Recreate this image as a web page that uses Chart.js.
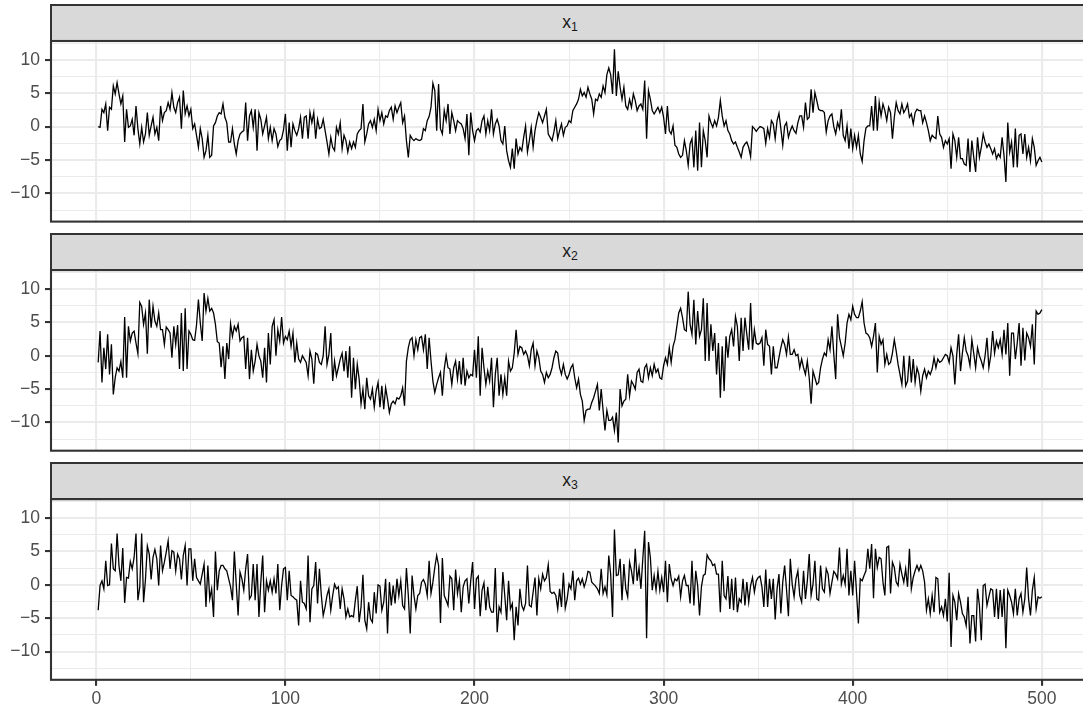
<!DOCTYPE html>
<html>
<head>
<meta charset="utf-8">
<script src="https://cdn.jsdelivr.net/npm/chart.js@4.4.1/dist/chart.umd.min.js"></script>
<style>
  html, body { margin: 0; padding: 0; background: #fff; overflow: hidden; width: 1083px; height: 711px; }
  #wrap { position: relative; width: 1100px; height: 711px; overflow: hidden; }
  canvas { position: absolute; left: 0; }
  .strip {
    position: absolute; box-sizing: border-box;
    background: #d9d9d9; border: 2.1px solid #333333;
    display: flex; align-items: center; justify-content: center;
    font-family: "Liberation Sans", Arial, Helvetica, sans-serif;
    font-size: 17.5px; color: #1a1a1a; line-height: 1;
  }
  .strip sub { font-size: 70%; vertical-align: baseline; position: relative; top: 0.35em; }
</style>
</head>
<body>
<div id="wrap"></div>
<script>
// series values, t = 1..500
const x1 = [
  0,-0.1,2.6,2.1,3.4,-0.6,2.9,2.6,6.1,4.9,
  6.6,4.9,3.4,4.6,-2.3,2.6,-0.1,0.1,1.1,-1.3,
  3.1,-0.3,-2.6,-0.1,-2.3,-1.1,2.1,-1.3,0.1,1.4,
  -1.1,-0.1,-2.1,3.1,0.9,2.1,2.4,3.6,2.6,5.1,
  2.9,2.1,3.6,4.4,-0.3,5.4,1.9,3.1,1.6,2.6,
  -0.3,0.4,-1.3,-3.1,-0.3,-1.8,-4.6,-3.6,-1.3,-4.6,
  -4.3,0.1,0.6,1.6,2.1,1.9,3.4,1.4,0.6,-2.3,
  -2.3,-0.3,-2.6,-4.1,-2.1,-1.1,-0.8,-0.6,3.6,-2.1,
  1.6,2.4,-0.1,2.6,-3.6,2.1,1.1,-1.1,0.1,1.4,
  -1.8,-0.1,-2.1,-0.3,-1.1,-3.0,-2.1,-1.8,-0.5,1.9,
  -3.6,0.6,-3.1,0.4,-0.6,-1.3,-0.3,1.4,-1.8,1.4,
  1.6,-1.8,2.1,0.6,2.1,-1.8,1.1,-0.3,-0.1,1.1,
  -0.6,-2.3,-4.1,-1.6,-3.1,-3.6,-0.1,-1.1,0.6,-3.3,
  -1.3,-2.1,-3.8,-2.3,-3.3,-2.3,-3.1,-1.1,-0.6,-0.3,
  3.4,-2.3,-1.1,0.4,0.9,-0.1,1.1,-0.6,2.6,0.9,
  2.1,0.4,1.6,1.4,2.4,2.9,1.1,3.1,2.1,2.9,
  3.6,0.6,1.6,-2.1,-4.6,-1.3,-1.8,-2.1,-1.8,-2.0,
  -2.1,-1.9,-0.3,-0.6,0.9,1.5,2.9,6.5,5.4,-0.6,
  6.4,-0.3,-1.1,2.4,0.9,3.4,-1.1,2.1,0.9,-0.6,
  0.9,0.6,0.4,-0.3,-1.8,1.9,-4.3,2.1,-0.6,-2.1,
  -0.6,-0.3,-0.8,0.9,1.6,-1.1,0.9,-0.6,2.6,-1.1,
  0.4,1.1,0.1,-2.1,-2.6,0.1,-3.6,-5.1,-6.1,-3.3,
  -6.3,-1.8,-4.1,-3.1,-3.6,-1.6,0.1,-3.8,-2.1,-0.1,
  -3.1,-0.6,0.9,2.1,1.4,0.6,1.6,2.6,-1.1,-1.6,
  -2.1,-0.8,0.9,-1.8,-0.6,0.4,-1.3,-0.1,0.1,0.9,
  0.6,2.4,2.9,3.4,4.1,5.6,4.6,5.1,4.4,5.9,
  4.9,4.1,1.9,4.1,3.9,4.9,4.4,6.1,5.1,7.8,
  8.8,7.8,4.9,11.6,4.6,8.3,5.9,4.1,5.9,3.1,
  2.6,4.1,2.9,4.9,3.9,2.4,3.1,3.4,2.6,6.9,
  -1.8,5.4,4.1,2.4,1.9,2.4,2.9,2.1,2.9,1.4,
  -1.1,3.1,-0.6,-1.1,0.1,-2.8,-3.1,-4.1,-4.6,-4.3,
  -2.1,-3.6,-5.8,-2.6,-1.8,-6.1,-0.6,-6.6,0.6,-6.1,
  -0.6,-2.1,-4.6,1.6,0.6,-0.1,0.9,0.1,1.4,3.9,
  1.6,0.1,0.9,-0.6,-1.1,-2.1,-2.6,-2.3,-3.1,-3.8,
  -4.6,-3.1,-2.6,-2.3,-3.1,-4.5,0,-0.3,-0.7,-0.3,
  0,-0.1,-0.3,-2.5,-0.3,-1.6,0.9,0.4,-1.8,0.9,
  2.0,-0.3,-2.8,0.1,0.6,-1.6,-0.6,0.1,-0.6,-1.0,
  0.6,1.6,1.6,-0.1,3.6,1.1,1.4,5.6,2.1,5.1,
  3.9,2.6,2.4,2.4,2.1,-0.8,0.9,1.6,1.9,0,
  -1.1,0.6,-0.3,2.6,-1.3,-2.1,0.1,-3.3,-0.3,-3.3,
  -1.3,-3.1,-1.3,-4.1,-5.2,-2.1,-0.2,0.1,0.1,3.1,
  -0.6,4.6,-0.6,3.6,1.6,3.4,2.4,0.9,2.9,2.1,
  -1.8,1.4,3.6,2.4,1.9,3.4,2.1,2.6,3.4,1.4,
  1.9,0.4,2.1,2.6,2.4,2.4,0.6,1.6,0.6,-0.6,
  -2.1,-1.3,-1.6,-1.8,1.6,-1.1,-1.6,-3.1,-2.1,-2.6,
  -1.8,-6.3,-1.1,-2.1,-4.6,-1.6,-4.8,-4.8,-5.6,-5.8,
  -1.8,-6.8,-2.1,-4.6,-6.8,-1.6,-4.6,-3.1,-1.1,-2.3,
  -3.1,-2.6,-3.3,-4.1,-3.3,-4.8,-4.1,-4.6,-1.6,-4.3,
  -8.3,0.6,-3.8,-2.3,-6.1,-0.3,-6.1,-1.3,-1.1,-4.1,
  -1.1,-4.6,-3.1,-5.1,-1.8,-3.1,-5.8,-5.1,-4.6,-5.3
];
const x2 = [
  -1.0,3.7,-4.0,1.2,-2.0,3.2,-2.8,1.7,-5.8,-3.3,
  -1.8,-2.3,-0.9,-3.3,5.8,-3.3,4.4,2.2,3.4,3.7,
  1.9,0.3,8.0,7.4,4.7,6.4,0.3,8.4,4.2,7.4,
  5.2,4.4,6.4,3.9,3.9,1.7,4.3,3.9,3.4,-0.3,
  4.4,1.7,4.6,-2.0,6.4,-2.3,7.1,-2.0,3.7,3.2,
  2.4,2.3,4.6,8.4,4.9,2.2,9.4,6.7,8.6,6.7,
  7.1,6.4,4.7,2.1,1.9,-1.7,1.4,-3.5,1.9,-0.5,
  4.8,2.9,4.4,3.7,4.7,2.2,2.7,2.9,-2.0,2.7,
  -3.5,0.9,-2.3,-0.8,1.7,0,-0.8,-3.3,1.2,-4.0,
  3.4,-1.3,4.4,5.4,0,3.9,2.2,5.8,1.9,2.9,
  2.4,3.7,1.4,3.4,-1.0,1.9,-0.5,-1.0,0,-0.5,
  -1.0,-3.0,0.7,-0.5,-4.2,0.4,0.2,-1.0,-1.3,0,
  4.4,-1.3,0.2,3.4,-3.8,-0.8,-3.0,-1.8,-0.5,0.4,
  -2.3,0.7,-3.3,1.4,-6.3,-0.3,-5.0,-1.3,-3.5,-7.2,
  -5.0,-8.0,-3.3,-6.0,-6.5,-5.0,-7.7,-5.3,-4.0,-7.7,
  -4.5,-8.0,-4.8,-6.5,-8.5,-7.2,-6.8,-7.2,-6.3,-6.5,
  -6.0,-4.8,-7.5,-0.8,1.2,2.4,2.7,0,2.4,0.9,
  2.7,2.9,0.9,3.2,-2.0,2.7,-0.8,-3.8,-5.5,-4.3,
  -3.3,-2.5,-6.0,-2.0,0,-1.8,-2.0,-4.3,-1.8,-0.8,
  -3.5,-0.8,-4.3,-0.3,-4.5,-2.3,-3.3,-2.8,-3.0,0.9,
  -3.3,2.9,-6.0,1.2,-1.8,-4.3,-2.3,-3.8,-0.3,-7.7,
  -2.8,-0.3,-6.0,-2.8,-5.8,-3.3,-6.0,-0.8,-2.3,-1.8,
  0.4,3.9,0.2,1.4,1.2,0.2,0.7,0,-1.5,0.9,
  1.9,-1.5,0.7,-0.3,-2.3,-2.8,-4.0,-2.5,-3.3,-2.8,
  -1.8,-0.3,0.7,0.4,-1.8,-2.8,-1.3,-2.8,-3.5,-2.8,
  -1.8,-1.3,-3.3,-4.8,-3.5,-5.8,-6.8,-9.7,-8.2,-8.0,
  -8.0,-7.0,-6.3,-5.3,-4.3,-8.2,-5.0,-8.2,-11.2,-8.2,
  -9.7,-9.7,-9.2,-11.2,-8.5,-13.0,-5.0,-7.5,-6.8,-6.5,
  -2.8,-6.0,-3.8,-4.3,-5.0,-2.5,-2.0,-3.8,-4.0,-1.8,
  -1.3,-3.3,-1.8,-3.0,-1.3,-2.5,-2.0,-3.3,-3.5,-1.5,
  -0.3,-1.3,1.2,-1.0,1.4,2.4,4.4,6.4,7.1,5.7,
  3.9,3.7,9.6,4.7,3.2,8.4,1.7,6.7,2.9,3.9,
  8.6,-0.8,7.9,-0.8,4.7,0.7,3.4,-2.8,1.9,-6.3,
  1.4,-5.3,2.9,-0.3,2.9,3.9,1.4,5.9,4.4,-0.8,
  5.7,0.7,5.7,3.2,0.9,7.9,0.9,3.9,1.9,1.7,
  1.9,2.7,-1.5,3.9,1.7,1.4,-2.8,1.4,-1.8,-1.8,
  -0.3,1.2,2.4,1.7,0.2,2.8,0.2,0.2,0.9,0,
  0.2,-1.8,-0.5,-1.8,-2.8,-0.8,-3.3,-7.2,-2.3,-3.3,
  -4.3,-4.0,-1.8,-0.5,0.4,0,2.4,0.9,4.4,0.2,
  -3.5,6.2,2.7,1.4,0,1.9,4.9,6.2,5.4,7.4,
  6.2,5.7,5.7,6.7,8.1,4.9,3.4,3.2,2.7,1.4,
  2.9,4.9,-2.5,2.9,1.7,2.4,-1.3,0.2,-1.3,-1.0,
  0.4,2.4,0.7,-1.3,-2.8,-4.3,0,-4.5,-3.8,0,
  -4.0,-0.5,-4.0,-1.8,-2.8,-5.3,-3.0,-2.0,-3.3,-2.3,
  -2.8,-2.0,-0.3,-1.8,-0.5,-1.0,-0.8,-0.3,0.2,0,
  -1.0,1.2,0,-4.3,0.2,3.2,-2.3,0.4,2.7,0.7,
  0,-1.5,2.4,0.4,-1.8,1.2,0,-0.8,-1.8,0,
  2.7,-1.8,0,3.7,0.4,2.2,1.2,2.4,0.2,3.9,
  0.2,4.9,-3.0,3.4,3.4,-0.5,1.9,4.9,-1.5,4.2,
  -0.7,3.4,2.7,1.4,4.7,-1.3,6.7,6.2,6.4,6.9
];
const x3 = [
  -3.8,-0.1,0.6,-0.6,3.6,-0.1,0,6.2,2.4,2.1,
  7.7,2.9,0.6,5.5,-2.7,1.1,1.0,3.5,2.4,4.1,
  7.7,-2.3,-0.3,7.7,-2.6,0.8,5.8,4.6,0.8,4.1,
  5.3,3.9,-0.1,5.9,2.1,3.4,4.9,6.6,2.4,5.1,
  4.9,2.1,4.6,3.9,0.8,4.4,5.9,-0.1,5.4,5.4,
  0.6,3.9,1.1,0.6,0.1,1.6,3.1,-3.3,2.9,-2.1,
  -0.6,-4.8,5.0,-0.8,2.1,2.9,2.9,2.4,2.1,0.9,
  -0.3,-2.3,5.0,0.1,-4.6,1.9,0.9,-0.8,2.4,4.6,
  -2.1,-1.6,3.1,-2.3,3.1,-4.8,0.4,4.4,-4.1,0.6,
  -0.8,0.6,-1.1,0.9,-1.3,3.1,-3.8,-0.1,2.4,2.6,
  -2.3,2.1,-1.6,-1.8,-2.1,-2.3,-6.1,0.6,-2.6,-2.8,
  -3.6,4.4,-5.6,-0.6,-0.1,3.4,-2.8,2.4,-1.6,-4.6,
  -3.3,-1.6,-0.6,-3.8,-1.6,0.1,-0.6,-0.3,-3.6,-0.6,
  -2.1,-4.8,-3.6,-4.8,-4.6,-4.8,-2.3,-0.2,-5.6,-3.3,
  1.5,-5.3,-6.6,-2.6,-5.1,-5.6,-1.1,-4.3,0,-0.2,
  -3.8,-2.6,0.9,-7.3,0.4,-3.1,-0.1,-2.8,0.9,-1.6,
  0.6,-3.1,-3.6,2.5,-1.6,-7.3,1.4,-1.6,-3.6,-1.6,
  -1.3,0.4,0.8,0.1,-1.6,3.6,-1.3,0.4,2.6,4.4,
  2.9,-5.7,4.0,-1.6,-2.3,-3.1,1.3,0.9,-3.8,2.3,
  -1.3,0.6,-4.1,-0.3,0.6,0.9,-2.8,0.6,3.4,-3.6,
  0.9,1.3,-4.7,-0.8,0.3,-3.8,-0.3,-3.3,-4.1,-4.1,
  2.5,-7.1,-3.3,-4.1,1.9,-1.6,-5.3,0.6,-3.6,-2.8,
  -8.3,-3.3,-6.1,-0.6,-3.1,-3.8,-2.8,2.9,-3.1,-3.3,
  -1.1,1.1,-4.6,0.9,-0.6,1.6,0.6,1.1,3.0,-1.0,
  -1.3,-1.1,-1.6,-3.6,-0.6,-3.3,1.8,-3.5,-2.1,0.1,
  -0.6,2.1,-2.3,0.6,1.0,0.1,0.9,-0.3,0.6,2.0,
  1.9,0.4,0.1,-0.2,-0.6,-1.3,2.4,-1.3,-0.3,-1.5,
  4.4,1.6,-4.8,8.3,1.4,1.5,3.9,-2.3,3.1,-0.6,
  -1.8,3.4,2.1,0.1,5.4,0.6,2.6,-0.6,3.9,8.1,
  -8.0,6.4,4.1,-0.8,1.4,-0.8,2.0,-0.8,1.1,-1.1,
  3.6,-2.6,3.1,0.9,-0.1,0.9,0.6,1.3,-1.8,0.6,
  1.4,-0.1,-0.1,-2.8,3.6,-3.1,2.1,-0.1,-4.6,-0.3,
  1.4,1.6,4.5,3.9,3.6,2.9,3.1,1.6,1.6,-4.1,
  3.6,-1.6,-2.1,1.3,-3.6,0.9,-3.8,1.1,-4.1,-2.1,
  -2.6,0.9,-3.1,0.4,-2.6,-0.1,1.1,-1.1,0.6,1.1,
  1.3,-0.3,-3.3,2.3,-3.3,0.9,-2.1,0.9,-5.2,-0.6,
  1.6,-4.3,0.4,2.9,-0.7,-4.7,3.9,0.1,-1.8,0.9,
  2.1,-1.6,-2.6,2.1,-2.1,0.6,4.6,-1.6,0.1,3.6,
  -2.1,-2.3,2.9,-0.6,-1.1,2.4,1.6,-1.3,0.4,2.0,
  1.6,0.9,5.6,0.1,1.4,0.1,5.4,-1.6,2.1,-1.6,
  3.6,-1.1,-5.8,0.9,0.6,1.4,2.1,5.4,2.4,6.1,
  -2.0,5.4,2.6,4.1,3.9,0.4,-1.6,5.6,5.8,-1.3,
  3.4,2.6,0.4,-0.1,3.1,1.6,0.4,2.4,-0.3,5.4,
  -0.6,1.1,2.1,2.9,2.1,2.9,2.1,0.4,-3.8,-2.1,
  -4.3,-1.6,-4.1,1.1,0.9,-4.1,-3.3,-4.6,-2.1,-5.5,
  1.8,-9.3,-1.6,-2.6,-5.3,-1.3,-2.6,-4.3,-4.8,-6.1,
  -1.8,-8.8,-4.6,-4.6,-8.5,-0.6,-3.1,-8.3,-0.1,0.1,
  -3.1,-1.8,-0.6,-0.8,-4.8,-0.6,-5.1,-0.8,-4.8,-0.6,
  -9.5,-0.8,-1.6,-2.6,-4.3,-0.6,-4.6,-2.1,-1.3,-4.1,
  -2.1,2.6,-2.1,-4.6,-0.8,1.1,-3.6,-1.8,-2.0,-1.8
];
const series = [x1, x2, x3];
const panelSub = ['1', '2', '3'];
const xBreaks = [0, 50, 100, 150, 200, 250, 300, 350, 400, 450, 500];
const yBreaks = [-12.5, -10, -7.5, -5, -2.5, 0, 2.5, 5, 7.5, 10, 12.5];

// layout, px
const PLOT_LEFT = 51, PLOT_RIGHT = 1089, CANVAS_W = 1100;
const PANEL_TOP = [41, 270.1, 499.2], PANEL_H = 180.6, STRIP_H = 36.3;
const X_MIN = -23.95, X_MAX = 524.95, Y_MIN = -14.23, Y_MAX = 12.83;

const FONT = { family: '"Liberation Sans", Arial, Helvetica, sans-serif', size: 17.5 };
const wrap = document.getElementById('wrap');

const panelBorder = {
  id: 'panelBorder',
  afterDraw(chart) {
    const a = chart.chartArea, ctx = chart.ctx;
    ctx.save();
    ctx.strokeStyle = '#333333';
    ctx.lineWidth = 2.1;
    ctx.strokeRect(a.left, a.top, a.right - a.left, a.bottom - a.top);
    ctx.restore();
  }
};

function isMajorX(v) { return v % 100 === 0; }
function isMajorY(v) { return v % 5 === 0; }

series.forEach((vals, i) => {
  const last = i === series.length - 1;
  const top = Math.floor(PANEL_TOP[i]) - 2;
  const padTop = PANEL_TOP[i] - top;
  const axisH = last ? 40 : 0;
  const h = Math.ceil(padTop + PANEL_H + 2 + axisH);
  const padBottom = h - padTop - PANEL_H - axisH;

  // strip
  const strip = document.createElement('div');
  strip.className = 'strip';
  strip.style.left = (PLOT_LEFT - 1.05) + 'px';
  strip.style.width = (PLOT_RIGHT - PLOT_LEFT + 2.1) + 'px';
  strip.style.top = (PANEL_TOP[i] - STRIP_H - 1.05) + 'px';
  strip.style.height = (STRIP_H + 2.1) + 'px';
  strip.innerHTML = 'x<sub>' + panelSub[i] + '</sub>';
  wrap.appendChild(strip);

  const cv = document.createElement('canvas');
  cv.width = CANVAS_W; cv.height = h;
  cv.style.width = CANVAS_W + 'px'; cv.style.height = h + 'px';
  cv.style.top = top + 'px';
  wrap.appendChild(cv);

  new Chart(cv, {
    type: 'line',
    data: {
      datasets: [{
        data: vals.map((v, k) => ({ x: k + 1, y: v })),
        borderColor: '#000000',
        borderWidth: 1.3,
        pointRadius: 0,
        tension: 0,
        fill: false
      }]
    },
    options: {
      responsive: false,
      animation: false,
      devicePixelRatio: 1,
      events: [],
      layout: { padding: { top: padTop, bottom: padBottom, left: 0, right: CANVAS_W - PLOT_RIGHT } },
      plugins: { legend: { display: false }, tooltip: { enabled: false } },
      scales: {
        x: {
          type: 'linear', min: X_MIN, max: X_MAX,
          afterBuildTicks: s => { s.ticks = xBreaks.map(v => ({ value: v })); },
          afterFit: s => { s.height = axisH; s.paddingLeft = 0; s.paddingRight = 0; },
          border: { display: false },
          grid: {
            color: '#ebebeb',
            lineWidth: c => (c.tick && isMajorX(c.tick.value)) ? 2.1 : 1.05,
            drawTicks: last,
            tickLength: 6,
            tickWidth: 2.1,
            tickColor: c => (c.tick && isMajorX(c.tick.value)) ? '#333333' : 'rgba(0,0,0,0)'
          },
          ticks: {
            display: last, autoSkip: false, maxRotation: 0, padding: 3,
            color: '#4d4d4d', font: FONT,
            callback: v => isMajorX(v) ? String(v) : ''
          }
        },
        y: {
          type: 'linear', min: Y_MIN, max: Y_MAX,
          afterBuildTicks: s => { s.ticks = yBreaks.map(v => ({ value: v })); },
          afterFit: s => { s.width = PLOT_LEFT; s.paddingTop = 0; s.paddingBottom = 0; },
          border: { display: false },
          grid: {
            color: '#ebebeb',
            lineWidth: c => (c.tick && isMajorY(c.tick.value)) ? 2.1 : 1.05,
            drawTicks: true,
            tickLength: 6,
            tickWidth: 2.1,
            tickColor: c => (c.tick && isMajorY(c.tick.value)) ? '#333333' : 'rgba(0,0,0,0)'
          },
          ticks: {
            autoSkip: false, padding: 5,
            color: '#4d4d4d', font: FONT,
            callback: v => isMajorY(v) ? (v < 0 ? '\u2212' + (-v) : String(v)) : ''
          }
        }
      }
    },
    plugins: [panelBorder]
  });
});
</script>
</body>
</html>
